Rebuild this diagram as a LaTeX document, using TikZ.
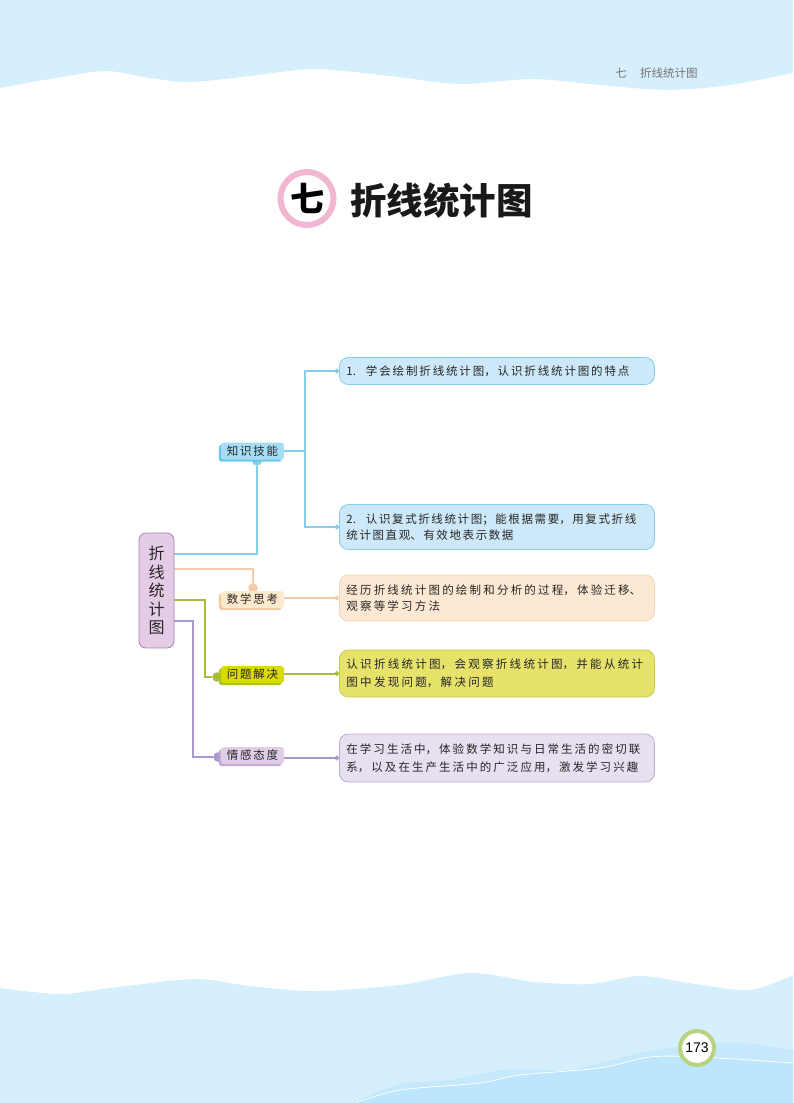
\documentclass[tikz,border=0pt]{standalone}
\usepackage{fontspec}
\usetikzlibrary{arrows.meta,shadows,backgrounds}
\setmainfont{Noto Sans CJK SC}
\newfontfamily\cjkbody{Noto Sans CJK SC}
\newfontfamily\cjkplain{Noto Sans CJK SC}
\newfontfamily\latinnum{Liberation Sans}
\XeTeXlinebreaklocale "zh"
\definecolor{wave}{HTML}{D6EFFD}
\definecolor{waveband}{HTML}{C5E8FB}
\definecolor{wavedeep}{HTML}{BDE5FB}
\definecolor{cblue}{HTML}{85CDEB}
\definecolor{corange}{HTML}{F6C9A8}
\definecolor{cgreen}{HTML}{A5BD3B}
\definecolor{cpurple}{HTML}{A898CC}
\definecolor{tagblue}{HTML}{A6DDF5}
\definecolor{tagblueS}{HTML}{6CC5EC}
\definecolor{tagorange}{HTML}{FDE9CC}
\definecolor{tagorangeS}{HTML}{F7C9A0}
\definecolor{taggreen}{HTML}{D8DA00}
\definecolor{taggreenS}{HTML}{AEBF2E}
\definecolor{tagpurple}{HTML}{E0CDE6}
\definecolor{tagpurpleS}{HTML}{C0A8D6}
\definecolor{boxblue}{HTML}{CDE9F9}
\definecolor{boxorange}{HTML}{FDE9D3}
\definecolor{boxorangeD}{HTML}{F5D5B5}
\definecolor{boxgreen}{HTML}{E6E26A}
\definecolor{boxgreenD}{HTML}{C5C84C}
\definecolor{boxpurple}{HTML}{E8DFF0}
\definecolor{boxpurpleD}{HTML}{BFA9D3}
\definecolor{rootfill}{HTML}{E5CCE6}
\definecolor{rootdraw}{HTML}{A981B8}
\definecolor{pinkring}{HTML}{F2B6D2}
\definecolor{greenring}{HTML}{B9D27F}
\tikzset{
  bodybox/.style={draw=#1,line width=.8pt,rounded corners=9pt,text width=301pt,inner xsep=7pt,inner ysep=0pt,align=left,anchor=west,text=black!85},
  bodytext/.style 2 args={font=\cjkbody\fontsize{11.5}{#1}\selectfont,execute at begin node={\XeTeXlinebreakskip=#2pt\relax}},
  tagbox/.style 2 args={fill=#1,rounded corners=3pt,text width=63pt,align=center,minimum height=17pt,inner sep=0pt,font=\cjkplain\fontsize{11.5}{13}\selectfont,text=black!85,execute at begin node={\XeTeXlinebreakskip=1.8pt\relax},general shadow={shadow xshift=-2.2pt,shadow yshift=-2.2pt,fill=#2,draw=none}},
  link/.style={draw=#1,line width=2pt},
  linkend/.style={draw=#1,line width=2pt,-{Circle[length=4.5pt,width=4.5pt]}},
  tagdot/.style={circle,fill=#1,minimum size=9.5pt,inner sep=0pt}
}
\begin{document}
\begin{tikzpicture}[x=1pt,y=-1pt]
\useasboundingbox (0,0) rectangle (793,1103);
% page decoration
\fill[wave] (0,0) -- plot[smooth] coordinates {(0,88) (50,79) (105,71) (150,78) (190,82) (250,76) (315,69) (390,76) (460,84) (533,79) (600,85) (667,90) (730,85) (793,73)} -- (793,0) -- cycle;
\fill[wave] (0,1103) -- plot[smooth] coordinates {(0,988) (60,994) (110,988) (195,979) (250,986) (315,991) (400,985) (470,973) (535,982) (590,984) (640,976) (695,984) (750,990) (793,975)} -- (793,1103) -- cycle;
\fill[waveband] plot[smooth] coordinates {(352,1103) (400,1084) (450,1080) (510,1069) (570,1070) (640,1053) (700,1044) (743,1043) (793,1050)} -- (793,1103) -- cycle;
\fill[wavedeep] plot[smooth] coordinates {(355,1103) (400,1090) (480,1083) (520,1075) (600,1068) (650,1057) (700,1057) (793,1063)} -- (793,1103) -- cycle;
\draw[white,line width=.8pt] plot[smooth] coordinates {(355,1103) (400,1090) (480,1083) (520,1075) (600,1068) (650,1057) (700,1057) (793,1063)};
% header and title
\node[font=\cjkplain\fontsize{11.5}{13}\selectfont,text=black!55,anchor=center] (headnum) at (621,73) {七};
\node[font=\cjkplain\fontsize{11.5}{13}\selectfont,text=black!55,anchor=west,inner sep=0pt] (headtext) at (640,73) {折线统计图};
\node[circle,draw=pinkring,line width=6pt,fill=white,minimum size=53pt,inner sep=0pt,font=\cjkplain\bfseries\fontsize{34}{40}\selectfont] (chapnum) at (307,198.5) {七};
\node[anchor=west,inner sep=0pt,font=\cjkplain\bfseries\fontsize{36.5}{40}\selectfont,text=black!90] (title) at (350,201) {折线统计图};
% page number
\node[circle,draw=greenring,line width=4pt,fill=white,minimum size=34pt,inner sep=0pt,font=\latinnum\fontsize{14}{16}\selectfont] (pageno) at (697,1048) {173};
% mind map
\node[draw=rootdraw,fill=rootfill,line width=.8pt,rounded corners=7pt,minimum width=35pt,minimum height=115pt,inner sep=0pt,align=center,font=\cjkplain\fontsize{16}{18.5}\selectfont,text=black!85] (root) at (156.5,590.5) {折\\线\\统\\计\\图};
\node[tagbox={tagblue}{tagblueS}] (skill) at (252.5,451) {知识技能};
\node[tagbox={tagorange}{tagorangeS}] (think) at (252.5,599.5) {数学思考};
\node[tagbox={taggreen}{taggreenS}] (solve) at (252.5,674.5) {问题解决};
\node[tagbox={tagpurple}{tagpurpleS}] (feel) at (252.5,755.5) {情感态度};
\node[bodybox=cblue,fill=boxblue,minimum height=27pt,bodytext={15}{1.86}] (b1) at (339,371) {1.\hspace{10pt}学会绘制折线统计图，认识折线统计图的特点};
\node[bodybox=cblue,fill=boxblue,minimum height=45pt,bodytext={15.5}{1.6}] (b2) at (339,527) {2.\hspace{10pt}认识复式折线统计图；能根据需要，用复式折线\\统计图直观、有效地表示数据};
\node[bodybox=boxorangeD,fill=boxorange,minimum height=46pt,bodytext={16}{2.2}] (b3) at (339,598) {经历折线统计图的绘制和分析的过程，体验迁移、\\观察等学习方法};
\node[bodybox=boxgreenD,fill=boxgreen,minimum height=47pt,bodytext={18}{2.3}] (b4) at (339,673.5) {认识折线统计图，会观察折线统计图，并能从统计\\图中发现问题，解决问题};
\node[bodybox=boxpurpleD,fill=boxpurple,minimum height=48pt,bodytext={18}{2.05}] (b5) at (339,758) {在学习生活中，体验数学知识与日常生活的密切联\\系，以及在生产生活中的广泛应用，激发学习兴趣};
% connector anchors
\coordinate (rblue) at (174,554);
\coordinate (rorange) at (174,569);
\coordinate (rgreen) at (174,600);
\coordinate (rpurple) at (174,621);
\coordinate (fork) at (305,451);
\coordinate (greenbend) at (205,677);
\coordinate (purplebend) at (193,757);
\begin{scope}[on background layer]
  \node[tagdot=cblue] (dotskill) at (257,461) {};
  \node[tagdot=corange] (dotthink) at (253,588) {};
  \node[tagdot=cgreen] (dotsolve) at (217,677) {};
  \node[tagdot=cpurple] (dotfeel) at (218,757) {};
  \draw[link=cblue] (rblue) -| (dotskill);
  \draw[link=corange] (rorange) -| (dotthink);
  \draw[link=cgreen] (rgreen) -| (greenbend) -- (dotsolve);
  \draw[link=cpurple] (rpurple) -| (purplebend) -- (dotfeel);
  \draw[link=cblue] (skill.east) -- (fork);
  \draw[link=cblue] (b1.west) -| (fork) |- (b2.west);
\end{scope}
\draw[linkend=cblue] (fork |- b1.west) -- (b1.west);
\draw[linkend=cblue] (fork |- b2.west) -- (b2.west);
\draw[linkend=corange] (think.east |- b3.west) -- (b3.west);
\draw[linkend=cgreen] (solve.east |- b4.west) -- (b4.west);
\draw[linkend=cpurple] (feel.east |- b5.west) -- (b5.west);
\end{tikzpicture}
\end{document}
